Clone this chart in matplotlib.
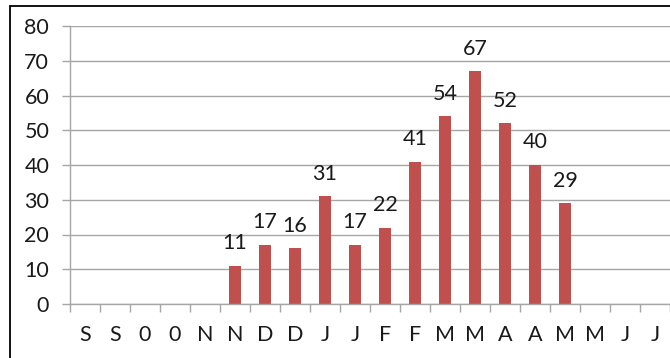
import matplotlib
matplotlib.use("Agg")
import matplotlib.pyplot as plt
from matplotlib.patches import Rectangle
import numpy as np

# Monthly counts (blank months carry no value)
categories = ["S", "S", "0", "0", "N", "N", "D", "D", "J", "J",
              "F", "F", "M", "M", "A", "A", "M", "M", "J", "J"]
values = [None, None, None, None, None, 11, 17, 16, 31, 17,
          22, 41, 54, 67, 52, 40, 29, None, None, None]
y_ticks = [0, 10, 20, 30, 40, 50, 60, 70, 80]

plt.rcParams["font.family"] = ["Lato", "DejaVu Sans"]
FS = 15.5
TXT = "#1a1a1a"

W, H = 670, 358
fig = plt.figure(figsize=(W / 100, H / 100), dpi=100)
fig.patch.set_facecolor("white")

# outer chart frame
fig.patches.append(Rectangle((10 / W, -0.01), 1.0, (H - 6) / H + 0.01,
                             transform=fig.transFigure, fill=False,
                             edgecolor="black", linewidth=1.3))

ax = fig.add_axes([70 / W, (H - 304) / H, 1 - 70 / W, (304 - 26) / H])

n = len(categories)
x = np.arange(n)
bar_x = [xi for xi, v in zip(x, values) if v is not None]
bar_v = [v for v in values if v is not None]
ax.bar(bar_x, bar_v, width=0.4, color="#C0504D", zorder=3)
for xi, v in zip(bar_x, bar_v):
    ax.annotate(str(v), (xi, v), xytext=(0, 9), textcoords="offset points",
                ha="center", va="bottom", fontsize=FS, color=TXT)

ax.set_xlim(-0.5, n - 0.5)
ax.set_ylim(0, 80)
ax.set_yticks(y_ticks)
ax.set_yticklabels([str(t) for t in y_ticks], fontsize=FS, color=TXT)
ax.yaxis.grid(True, color="#A6A6A6", linewidth=1.0, zorder=0)

# category labels centred in slots, tick marks at slot boundaries
ax.set_xticks(x)
ax.set_xticklabels(categories, fontsize=FS, color=TXT)
ax.tick_params(axis="x", length=0, pad=15)
ax.set_xticks(np.arange(n + 1) - 0.5, minor=True)
ax.tick_params(axis="x", which="minor", length=6, color="#A6A6A6", width=1)
ax.tick_params(axis="y", length=6, color="#A6A6A6", width=1, pad=9)

for s in ["top", "right"]:
    ax.spines[s].set_visible(False)
for s in ["left", "bottom"]:
    ax.spines[s].set_color("#A6A6A6")
    ax.spines[s].set_linewidth(1.0)
    ax.spines[s].set_zorder(4)

fig.savefig("out.png", dpi=100)
